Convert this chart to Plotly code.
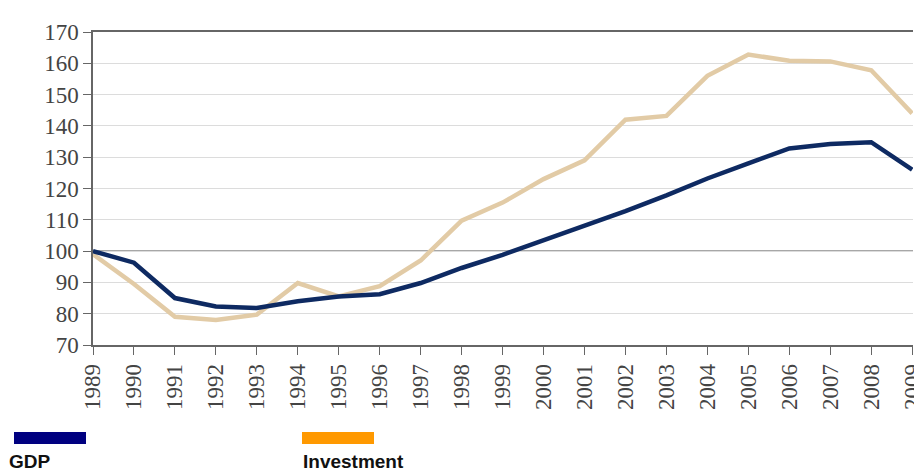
import plotly.graph_objects as go

# Index values, 1989 = 100
years = list(range(1989, 2010))
gdp = [100, 96.3, 85, 82.3, 81.8, 84, 85.5, 86.2, 89.8, 94.6, 98.8,
       103.5, 108, 112.8, 117.8, 123.2, 128, 132.8, 134.2, 134.8, 126]
investment = [99, 89.5, 79, 78, 79.7, 89.8, 85.5, 88.8, 97, 109.7, 115.5,
              123, 129, 142, 143.2, 156, 162.8, 160.8, 160.6, 157.8, 144]
y_ticks = list(range(70, 171, 10))

W, H = 914, 474
L, R, T, B = 93, 1, 32, 129
PW, PH = W - L - R, H - T - B


def px(x):
    return (x - L) / PW


def py(y):
    return (H - B - y) / PH


fig = go.Figure()
fig.add_trace(go.Scatter(x=years, y=investment, mode="lines", name="Investment",
                         line=dict(color="#E2CBA6", width=4.5), showlegend=False))
fig.add_trace(go.Scatter(x=years, y=gdp, mode="lines", name="GDP",
                         line=dict(color="#0E2A62", width=4.5), showlegend=False))

# darker reference line at the base index level
fig.add_shape(type="line", xref="paper", x0=0, x1=1, yref="y", y0=100, y1=100,
              line=dict(color="#8a8a8a", width=1.5), layer="below")

# legend: swatch bars with labels beneath
legend_items = [("GDP", "#000080", 14, 8), ("Investment", "#FF9900", 302, 302)]
for label, color, sx, tx in legend_items:
    fig.add_shape(type="rect", xref="paper", yref="paper",
                  x0=px(sx), x1=px(sx + 72), y0=py(444), y1=py(432),
                  fillcolor=color, line=dict(width=0))
    fig.add_annotation(xref="paper", yref="paper", x=px(tx), y=py(473),
                       xanchor="left", yanchor="bottom", text="<b>%s</b>" % label,
                       showarrow=False, borderpad=0,
                       font=dict(family="Liberation Sans", size=19, color="#111"))

serif = dict(family="Liberation Serif", size=23, color="#444")
fig.update_layout(
    width=W, height=H,
    margin=dict(l=L, r=R, t=T, b=B, pad=0, autoexpand=False),
    paper_bgcolor="white", plot_bgcolor="white",
    xaxis=dict(range=[1989, 2009.02], tickmode="array", tickvals=years,
               ticktext=[str(y) for y in years], tickangle=-90, tickfont=serif,
               ticklabeloverflow="allow", automargin=False,
               showgrid=False, zeroline=False, showline=True, mirror=True,
               linecolor="#666", linewidth=1.5, ticks="outside", ticklen=8,
               tickcolor="#666"),
    yaxis=dict(range=[70, 170], tickmode="array", tickvals=y_ticks, tickfont=serif,
               automargin=False,
               showgrid=True, gridcolor="#dcdcdc", gridwidth=1, zeroline=False,
               showline=True, linecolor="#666", linewidth=1.5, ticks="outside",
               ticklen=8, tickcolor="#666"),
)

fig.write_html("out.html")
